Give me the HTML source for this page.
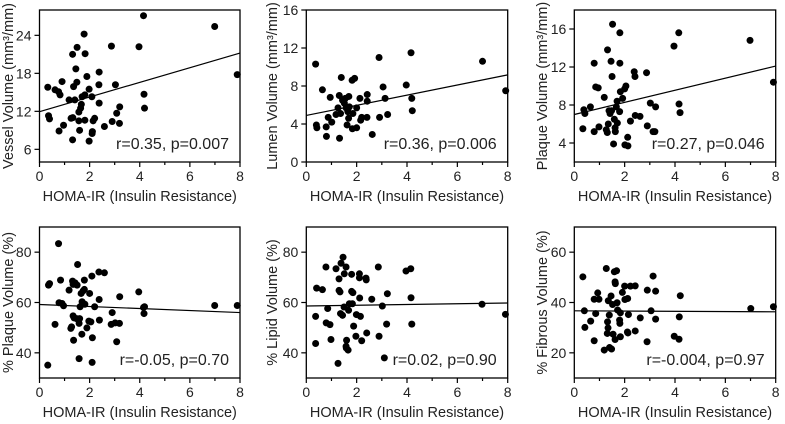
<!DOCTYPE html>
<html><head><meta charset="utf-8"><style>
html,body{margin:0;padding:0;background:#fff;}
svg{display:block;font-family:"Liberation Sans",Arial,sans-serif;}
</style></head><body>
<svg id="chart" width="785" height="424" viewBox="0 0 785 424"></svg>
<script>
const xTicks=[0,2,4,6,8];
const vesselX=[0.33,0.36,0.4,0.62,0.76,0.82,0.78,0.9,0.96,1.18,1.26,1.32,1.33,1.32,1.36,1.41,1.45,1.5,1.49,1.57,1.57,1.6,1.64,1.67,1.7,1.78,1.81,1.82,1.81,1.89,1.98,1.98,2.09,2.11,2.1,2.14,2.2,2.38,2.37,2.38,2.59,2.87,2.9,3.03,3.08,3.19,3.2,3.97,4.15,4.17,4.19,6.99,7.89];
const vesselY=[15.8,11.3,10.8,15.4,15.1,14.6,8.9,16.7,9.8,13.8,10.9,21,11,7.5,15.9,13.8,18.7,22.1,16.6,10.5,11.9,9,12.5,13.1,14.3,24.2,10.6,21.1,14.6,17.5,7.3,15.5,14.3,8.8,8.5,10.5,10.9,18.2,16.2,13.3,9.6,22.3,10.4,16.2,11.7,10.1,12.7,22.2,27.1,14.7,12.5,25.4,17.8];
const lumenX=[0.37,0.4,0.42,0.64,0.79,0.8,0.87,0.95,1.01,1.18,1.26,1.31,1.32,1.36,1.39,1.44,1.51,1.55,1.58,1.62,1.65,1.69,1.68,1.71,1.82,1.83,1.85,1.92,2,2,2.13,2.16,2.2,2.42,2.41,2.42,2.89,2.91,2.62,3.05,3.13,3.23,3.97,4.16,4.19,4.21,7,7.92];
const lumenY=[10.3,3.9,3.6,7.6,3.7,2.7,4.7,6.8,4.2,5,5.7,7,2.5,5.1,8.9,6.5,6.2,6.7,5.7,3.9,5.3,6.9,4.6,5.8,8.6,3.5,5.1,8.8,5.7,3.6,6.7,4.4,4.7,7.1,4.7,6.4,11,4.7,2.9,7.9,6.7,5,8.1,11.5,6.7,5.4,10.6,7.5];
const plaqueX=[0.34,0.38,0.42,0.64,0.79,0.79,0.85,0.95,0.98,1.19,1.27,1.32,1.31,1.35,1.38,1.42,1.46,1.48,1.5,1.52,1.56,1.59,1.62,1.63,1.67,1.7,1.71,1.81,1.81,1.8,1.83,1.92,2,2.05,2.01,2.12,2.13,2.23,2.38,2.41,2.42,2.61,2.87,2.9,3.02,3.13,3.23,3.2,3.96,4.15,4.16,4.2,6.98,7.91];
const plaqueY=[5.5,7.5,7.1,7.8,12.4,5.2,9.9,9.8,5.7,8.8,5.4,13.8,5.1,6,7.4,7.1,12.6,7.4,11,16.5,3.9,6.5,5.6,5.2,7.8,8.4,6.1,15.6,12.4,7.3,9.4,8.7,9.7,10,3.8,4.6,3.7,6.3,11.5,11,6.9,6.8,11.4,5.8,8.2,5.2,7.8,5.2,14.2,15.6,8.1,7.2,14.8,10.4];
const pctPlaqueX=[0.33,0.36,0.4,0.62,0.76,0.78,0.84,0.9,0.96,1.18,1.25,1.28,1.32,1.34,1.34,1.38,1.36,1.42,1.48,1.5,1.52,1.58,1.6,1.58,1.62,1.66,1.69,1.7,1.74,1.79,1.81,1.79,1.89,1.97,2,2.05,2.09,2.1,2.11,2.2,2.37,2.38,2.39,2.59,2.86,2.9,3.02,3.08,3.19,3.2,3.96,4.15,4.17,4.19,6.99,7.89];
const pctPlaqueY=[35.1,66.9,67.5,51.3,83.4,59.9,68.9,59.6,58.7,64.9,49.7,50.3,68.5,67.2,54.7,53.9,45,67.8,53.6,66.9,75.1,37.7,53.6,51.7,58.3,63.6,47.4,60.3,64.6,68.9,59.3,65.2,49.9,52.6,63.6,52.3,70.5,36.2,46,58.3,72.1,61.2,53,71.8,51.3,56,51.9,44.4,51.7,62.3,64.2,58,55.6,58.3,58.8,58.8];
const lipidX=[0.37,0.37,0.41,0.64,0.78,0.79,0.85,0.94,0.98,1.18,1.26,1.3,1.3,1.34,1.38,1.36,1.46,1.44,1.5,1.51,1.58,1.6,1.58,1.59,1.66,1.68,1.71,1.8,1.8,1.83,1.85,1.88,1.97,1.99,2.11,2.11,2.15,2.12,2.2,2.37,2.38,2.4,2.6,2.86,2.89,3.02,3.1,3.19,3.22,3.96,4.15,4.16,4.19,6.98,7.91];
const lipidY=[43.7,54.5,65.7,65.1,74.1,51.9,57.6,51.2,45.3,73.4,35.8,69.4,64.8,64.2,75.6,55.6,78,54.9,58.2,71.4,74.1,45,42.6,41.9,41.1,56.9,59.5,71.2,64.4,59.5,63.9,50.6,46.6,55.2,71.4,69.8,54.5,61.8,44.8,69.7,69,47.9,61.3,74.1,46.6,58.6,38,51.4,63.5,72.5,73.4,61.9,51.4,59.3,55.3];
const fibrousX=[0.34,0.4,0.42,0.65,0.79,0.79,0.85,0.93,0.98,1.19,1.27,1.31,1.32,1.34,1.35,1.39,1.4,1.46,1.48,1.52,1.54,1.59,1.62,1.63,1.62,1.68,1.7,1.72,1.8,1.81,1.83,1.83,1.91,2,2.01,2.12,2.11,2.13,2.15,2.23,2.42,2.42,2.62,2.89,2.9,3.05,3.13,3.23,3.23,3.97,4.16,4.17,4.21,7.01,7.91];
const fibrousY=[50.2,36.7,30.1,32.6,24.8,41.3,35.6,43.8,41.3,21.1,53.5,27.7,32.3,29.9,40.7,35,22.1,42.6,21.5,39.2,27.4,52.2,48.2,47.5,25.3,52.6,39.9,37,33,31.7,26.4,35.9,44,46.5,41.2,41.6,28.3,27.9,35.2,46.5,46.6,28.7,33.9,24.4,44.9,36.7,50.5,44.5,33.4,26.6,25.4,34.3,42.7,37.6,38.3];
const fitStart=[11.95,4.9,7.0,59.2,58.6,36.7];
const fitEnd=[21.2,9.17,12.1,56.0,59.8,36.3];
const yMins=[4,0,2,30,30,10];
const yMaxs=[28,16,18,90,90,70];
const yTicks1=[6,12,18,24], yTicks2=[0,4,8,12,16], yTicks3=[4,8,12,16], yTicks4=[40,60,80], yTicks5=[40,60,80], yTicks6=[20,40,60];
const yTitles=["Vessel Volume (mm³/mm)","Lumen Volume (mm³/mm)","Plaque Volume (mm³/mm)","% Plaque Volume (%)","% Lipid Volume (%)","% Fibrous Volume (%)"];
const stats=["r=0.35, p=0.007","r=0.36, p=0.006","r=0.27, p=0.046","r=-0.05, p=0.70","r=0.02, p=0.90","r=-0.004, p=0.97"];

const panelsGeom=[
 {x0:39.5,x1:240,top:10,bot:162,titleX:7},
 {x0:306.3,x1:507.7,top:10,bot:162,titleX:271},
 {x0:574.3,x1:775.7,top:10,bot:162,titleX:541},
 {x0:39.5,x1:240,top:227,bot:378,titleX:7},
 {x0:306.3,x1:507.7,top:227,bot:378,titleX:271},
 {x0:574.3,x1:775.7,top:227,bot:378,titleX:541}];
const xs=[vesselX,lumenX,plaqueX,pctPlaqueX,lipidX,fibrousX];
const ys=[vesselY,lumenY,plaqueY,pctPlaqueY,lipidY,fibrousY];
const yt=[yTicks1,yTicks2,yTicks3,yTicks4,yTicks5,yTicks6];
const names=["vessel","lumen","plaque","pct-plaque","lipid","fibrous"];
const svg=document.getElementById('chart');
const NS="http://www.w3.org/2000/svg";
function mk(tag,attrs,parent){const e=document.createElementNS(NS,tag);for(const k in attrs)e.setAttribute(k,attrs[k]);parent.appendChild(e);return e;}
for(let p=0;p<6;p++){
 const G=panelsGeom[p];
 const g=mk('g',{},svg);
 
 
 const sx=v=>G.x0+(v-0)/(8-0)*(G.x1-G.x0);
 const sy=v=>G.bot-(v-yMins[p])/(yMaxs[p]-yMins[p])*(G.bot-G.top);
 const frame=mk('rect',{x:G.x0,y:G.top,width:G.x1-G.x0,height:G.bot-G.top,fill:'none',stroke:'#000','stroke-width':1.3},g);
 
 
 for(let i=0;i<=8;i++){
  const X=sx(i);
  mk('line',{x1:X,x2:X,y1:G.bot,y2:G.bot+(i%2===0?5:3),stroke:'#000','stroke-width':1.2},g);
 }
 xTicks.forEach(t=>{
  const tx=mk('text',{x:sx(t),y:G.bot+19,'text-anchor':'middle','font-size':14,fill:'#222'},g);
  tx.textContent=t;
  
  
 });
 yt[p].forEach(t=>{
  const Y=sy(t);
  mk('line',{x1:G.x0-5,x2:G.x0,y1:Y,y2:Y,stroke:'#000','stroke-width':1.2},g);
  const ty=mk('text',{x:G.x0-8,y:Y+5,'text-anchor':'end','font-size':14,fill:'#222'},g);
  ty.textContent=t;
  
  
 });
 const xt=mk('text',{x:(G.x0+G.x1)/2,y:G.bot+39,'text-anchor':'middle','font-size':14.5,fill:'#222'},g);
 xt.textContent="HOMA-IR (Insulin Resistance)";
 
 
 const cy=(G.top+G.bot)/2;
 const yT=mk('text',{x:G.titleX,y:cy,'text-anchor':'middle','font-size':14.5,fill:'#222',transform:`rotate(-90 ${G.titleX} ${cy}) translate(0 6)`},g);
 yT.textContent=yTitles[p];
 
 
 const fl=mk('line',{x1:sx(0),y1:sy(fitStart[p]),x2:sx(8),y2:sy(fitEnd[p]),stroke:'#000','stroke-width':1.2},g);
 
 
 for(let i=0;i<xs[p].length;i++){
  const c=mk('circle',{cx:sx(xs[p][i]),cy:sy(ys[p][i]),r:3.5,fill:'#000'},g);
  
  
 }
 const st=mk('text',{x:G.x1-11,y:G.bot-13,'text-anchor':'end','font-size':16,fill:'#222'},g);
 st.textContent=stats[p];
 
 
}
</script>
</body></html>
